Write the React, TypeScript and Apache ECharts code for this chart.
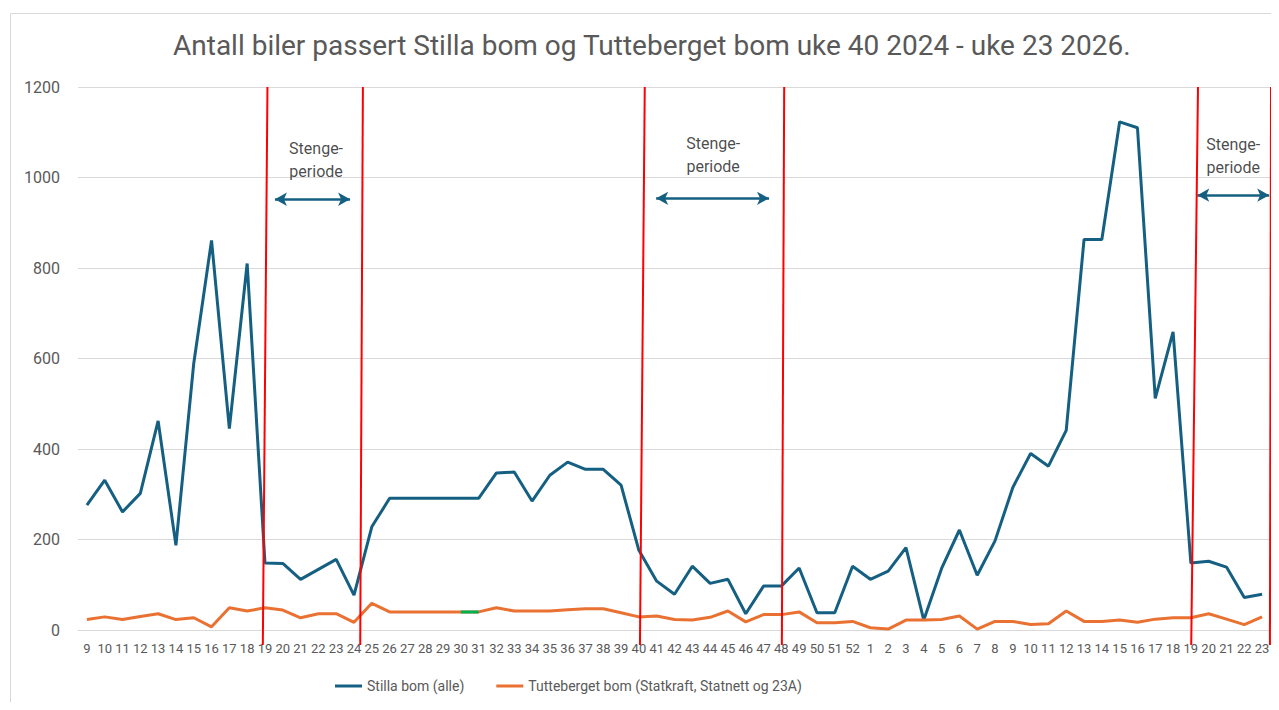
import React, { useEffect, useRef } from "react";
import * as echarts from "echarts";

const weeks: string[] = [
  "9","10","11","12","13","14","15","16","17","18","19","20","21","22","23","24","25","26","27","28","29","30","31","32","33","34","35","36","37","38","39","40","41","42","43","44","45","46","47","48","49","50","51","52",
  "1","2","3","4","5","6","7","8","9","10","11","12","13","14","15","16","17","18","19","20","21","22","23",
];

const stilla: number[] = [
  276, 331, 261, 302, 462, 187, 589, 861, 445, 810, 148, 147, 112, 134, 156, 77, 228, 291, 291, 291, 291, 291, 291,
  347, 349, 285, 342, 371, 355, 355, 320, 176, 108, 79, 141, 103, 112, 36, 97, 97, 137, 38, 38, 141,
  112, 130, 182, 22, 136, 221, 121, 197, 315, 390, 362, 441, 863, 863, 1123, 1110, 512, 659, 148, 152, 139, 72, 79,
];

const tutteberget: number[] = [
  23, 29, 23, 30, 36, 23, 27, 7, 49, 42, 49, 44, 27, 36, 36, 17, 59, 40, 40, 40, 40, 40, 40,
  49, 42, 42, 42, 45, 47, 47, 38, 29, 31, 23, 22, 28, 42, 18, 34, 34, 40, 16, 16, 19,
  5, 2, 22, 22, 23, 31, 2, 19, 19, 12, 14, 42, 19, 19, 22, 17, 24, 27, 27, 36, 24, 12, 29,
];

// indices of the highlighted (green) segment on the Tutteberget line
const greenSegment: number[] = [21, 22];

// closure-period boundaries: [top position, bottom position] in category units
const closureLines: number[][] = [
  [10.14, 9.88],
  [15.5, 15.35],
  [31.33, 31.06],
  [39.16, 39.03],
  [62.4, 62.02],
  [66.5, 66.44],
];

// arrows: [from, to, value]
const closureArrows: number[][] = [
  [10.56, 14.78, 952],
  [31.97, 38.31, 954],
  [62.36, 66.4, 961],
];

// labels: [position, value]
const closureLabels: number[][] = [
  [12.87, 1039],
  [35.17, 1049],
  [64.38, 1048],
];

const BLUE = "#156082";
const ORANGE = "#E97132";
const GREEN = "#00B050";
const RED = "#FF0000";
const GREY = "#595959";
const FONT = "Roboto";

const GRID_LEFT = 78;
const GRID_RIGHT = 8;
const GRID_TOP = 87;
const GRID_BOTTOM = 80;
const CHART_W = 1279;
const CHART_H = 710;
const Y_MAX = 1200;
const OVERLAY_Y_MIN = -40;
const LINE_BOTTOM = -33;

export default function App() {
  const ref = useRef<HTMLDivElement>(null);

  useEffect(() => {
    if (!ref.current) return;
    const chart = echarts.init(ref.current, undefined, { renderer: "svg" });

    const n = weeks.length;
    const step = (CHART_W - GRID_LEFT - GRID_RIGHT) / n;
    // overlay grid reaches the right edge of the canvas, same category scale
    const overlayMax = -0.5 + (CHART_W - GRID_LEFT) / step;
    const pxPerUnit = (CHART_H - GRID_TOP - GRID_BOTTOM) / Y_MAX;
    const overlayBottom = GRID_BOTTOM + OVERLAY_Y_MIN * pxPerUnit;

    const greenData = tutteberget.map((v, i) => (greenSegment.includes(i) ? v : null));

    const option: any = {
      animation: false,
      backgroundColor: "#ffffff",
      textStyle: { fontFamily: FONT },
      title: {
        text: "Antall biler passert Stilla bom og Tutteberget bom uke 40 2024 - uke 23 2026.",
        left: 173,
        top: 31,
        padding: 0,
        textStyle: { fontFamily: FONT, fontSize: 28, fontWeight: "normal", color: GREY },
      },
      legend: {
        data: ["Stilla bom (alle)", "Tutteberget bom (Statkraft, Statnett og 23A)"],
        left: 335,
        top: 679,
        padding: 0,
        icon: "rect",
        itemWidth: 27,
        itemHeight: 3,
        itemGap: 32,
        textStyle: { fontFamily: FONT, fontSize: 14, color: GREY },
      },
      grid: [
        { left: GRID_LEFT, right: GRID_RIGHT, top: GRID_TOP, bottom: GRID_BOTTOM, containLabel: false },
        { left: GRID_LEFT, right: 0, top: GRID_TOP, bottom: overlayBottom, containLabel: false },
      ],
      xAxis: [
        {
          type: "category",
          gridIndex: 0,
          data: weeks,
          boundaryGap: true,
          axisLine: { show: true, lineStyle: { color: "#D9D9D9", width: 1 } },
          axisTick: { show: false },
          axisLabel: { interval: 0, color: GREY, fontSize: 13, fontFamily: FONT, margin: 12 },
          splitLine: { show: false },
        },
        {
          type: "value",
          gridIndex: 1,
          min: -0.5,
          max: overlayMax,
          show: false,
          splitLine: { show: false },
        },
      ],
      yAxis: [
        {
          type: "value",
          gridIndex: 0,
          min: 0,
          max: Y_MAX,
          interval: 200,
          axisLine: { show: false },
          axisTick: { show: false },
          axisLabel: { color: GREY, fontSize: 16, fontFamily: FONT, margin: 18, formatter: (v: number) => String(v) },
          splitLine: { lineStyle: { color: "#D9D9D9", width: 1 } },
        },
        {
          type: "value",
          gridIndex: 1,
          min: OVERLAY_Y_MIN,
          max: Y_MAX,
          show: false,
          splitLine: { show: false },
        },
      ],
      series: [
        {
          name: "Stilla bom (alle)",
          type: "line",
          data: stilla,
          showSymbol: false,
          symbol: "none",
          lineStyle: { color: BLUE, width: 3 },
          itemStyle: { color: BLUE },
          z: 3,
        },
        {
          name: "Tutteberget bom (Statkraft, Statnett og 23A)",
          type: "line",
          data: tutteberget,
          showSymbol: false,
          symbol: "none",
          lineStyle: { color: ORANGE, width: 3 },
          itemStyle: { color: ORANGE },
          z: 3,
        },
        {
          name: "green",
          type: "line",
          data: greenData,
          showSymbol: false,
          symbol: "none",
          connectNulls: false,
          lineStyle: { color: GREEN, width: 3 },
          itemStyle: { color: GREEN },
          z: 4,
        },
        {
          name: "arrows",
          type: "line",
          xAxisIndex: 1,
          yAxisIndex: 1,
          data: [],
          showSymbol: false,
          silent: true,
          markLine: {
            silent: true,
            symbol: ["arrow", "arrow"],
            symbolSize: [10, 12],
            label: { show: false },
            lineStyle: { color: BLUE, width: 2.5, type: "solid" },
            data: closureArrows.map((a) => [
              { coord: [a[0], a[2]] },
              { coord: [a[1], a[2]] },
            ]),
          },
        },
        {
          name: "labels",
          type: "scatter",
          xAxisIndex: 1,
          yAxisIndex: 1,
          data: closureLabels,
          symbolSize: 1,
          itemStyle: { color: "rgba(0,0,0,0)" },
          silent: true,
          label: {
            show: true,
            position: "inside",
            formatter: "Stenge-\nperiode",
            fontFamily: FONT,
            fontSize: 16,
            lineHeight: 23,
            color: "#1a1a1a",
            align: "center",
          },
        },
      ],
    };

    chart.setOption(option);

    // closure boundary lines, positioned through the overlay axes
    const lineGraphics = closureLines.map((l) => {
      const p1 = chart.convertToPixel({ gridIndex: 1 }, [l[0], Y_MAX]) as number[];
      const p2 = chart.convertToPixel({ gridIndex: 1 }, [l[1], LINE_BOTTOM]) as number[];
      return {
        type: "line",
        silent: true,
        z: 10,
        shape: { x1: p1[0], y1: p1[1], x2: p2[0], y2: p2[1] },
        style: { stroke: RED, lineWidth: 2 },
      };
    });

    chart.setOption({
      graphic: [
        {
          type: "rect",
          silent: true,
          z: -10,
          shape: { x: 10.5, y: 13.5, width: 1400, height: 800 },
          style: { fill: "none", stroke: "#D9D9D9", lineWidth: 1 },
        },
        ...lineGraphics,
      ],
    });

    return () => chart.dispose();
  }, []);

  return <div ref={ref} style={{ width: 1279, height: 710, margin: -8 }} />;
}
